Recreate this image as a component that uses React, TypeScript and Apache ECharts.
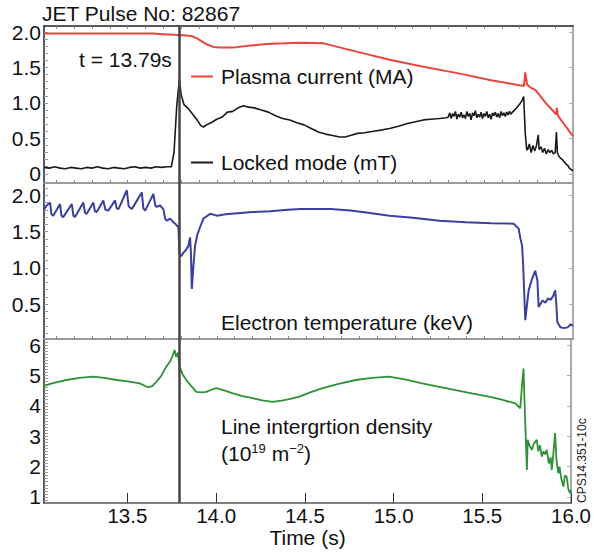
import React, { useEffect, useRef } from "react";
import * as echarts from "echarts";

const FONT = "'Liberation Sans', Arial, Helvetica, sans-serif";
const TIME_MIN = 13.03;
const TIME_MAX = 16.0;
const EVENT_TIME = 13.79;

const timeTickLabels = [13.5, 14.0, 14.5, 15.0, 15.5, 16.0];
const currentTickLabels = [0, 0.5, 1.0, 1.5, 2.0];
const tempTickLabels = [0.5, 1.0, 1.5, 2.0];
const densTickLabels = [1, 2, 3, 4, 5, 6];

// Plasma current (MA)
const ipTime = [13.03, 13.3, 13.64, 13.7, 13.76, 13.83, 13.86, 13.89, 13.92, 13.95, 13.98, 14.02, 14.09, 14.19, 14.28, 14.38, 14.47, 14.6, 14.79, 14.97, 15.16, 15.35, 15.54, 15.7, 15.725, 15.732, 15.742, 15.76, 15.79, 15.85, 15.905, 15.91, 15.915, 16.0];
const ipValue = [1.98, 1.98, 1.98, 1.97, 1.96, 1.95, 1.94, 1.91, 1.86, 1.82, 1.79, 1.78, 1.78, 1.81, 1.83, 1.84, 1.85, 1.84, 1.72, 1.61, 1.51, 1.42, 1.32, 1.25, 1.24, 1.43, 1.26, 1.22, 1.18, 0.99, 0.84, 0.93, 0.82, 0.53];

// Locked mode (mT)
const lmTime = [13.03, 13.06, 13.09, 13.12, 13.15, 13.18, 13.21, 13.24, 13.27, 13.3, 13.33, 13.36, 13.39, 13.42, 13.45, 13.48, 13.51, 13.54, 13.57, 13.6, 13.63, 13.66, 13.69, 13.72, 13.745, 13.76, 13.775, 13.79, 13.8, 13.815, 13.84, 13.865, 13.89, 13.91, 13.925, 13.95, 13.975, 14.0, 14.03, 14.06, 14.09, 14.12, 14.15, 14.18, 14.21, 14.25, 14.29, 14.33, 14.37, 14.41, 14.45, 14.49, 14.53, 14.57, 14.61, 14.65, 14.69, 14.72, 14.75, 14.79, 14.83, 14.88, 14.93, 14.97, 15.02, 15.07, 15.11, 15.16, 15.2, 15.25, 15.29,
  15.3, 15.308, 15.316, 15.324, 15.332, 15.34, 15.348, 15.356, 15.364, 15.372, 15.38, 15.388, 15.396, 15.404, 15.412, 15.42, 15.428, 15.436, 15.444, 15.452, 15.46, 15.468, 15.476, 15.484, 15.492, 15.5, 15.508, 15.516, 15.524, 15.532, 15.54, 15.548, 15.556, 15.564, 15.572, 15.58, 15.588, 15.596, 15.604, 15.612, 15.62, 15.628, 15.636, 15.644, 15.652, 15.66,
  15.68, 15.7, 15.715, 15.723, 15.728, 15.732, 15.74, 15.745, 15.755, 15.765, 15.775, 15.785, 15.795, 15.805, 15.81, 15.82, 15.83, 15.84, 15.85, 15.86, 15.87, 15.88, 15.89, 15.9, 15.907, 15.912, 15.92, 15.93, 15.94, 15.95, 15.96, 15.97, 15.98, 15.99, 16.0];
const lmValue = [0.09, 0.08, 0.1, 0.08, 0.07, 0.09, 0.08, 0.07, 0.09, 0.08, 0.1, 0.08, 0.07, 0.09, 0.08, 0.07, 0.09, 0.1, 0.08, 0.09, 0.08, 0.1, 0.09, 0.1, 0.1, 0.3, 0.95, 1.33, 1.12, 0.98, 0.92, 0.84, 0.76, 0.68, 0.66, 0.7, 0.73, 0.77, 0.8, 0.87, 0.88, 0.93, 0.96, 0.94, 0.93, 0.9, 0.87, 0.82, 0.78, 0.76, 0.72, 0.69, 0.64, 0.59, 0.56, 0.54, 0.52, 0.52, 0.54, 0.57, 0.58, 0.6, 0.62, 0.64, 0.67, 0.71, 0.73, 0.76, 0.77, 0.78, 0.79,
  0.8, 0.86, 0.78, 0.85, 0.81, 0.88, 0.77, 0.84, 0.8, 0.87, 0.79, 0.83, 0.78, 0.88, 0.81, 0.85, 0.76, 0.86, 0.82, 0.89, 0.79, 0.84, 0.8, 0.87, 0.78, 0.85, 0.81, 0.88, 0.79, 0.84, 0.77, 0.86, 0.82, 0.87, 0.8, 0.85, 0.79, 0.88, 0.82, 0.86, 0.81, 0.87, 0.83, 0.88, 0.84, 0.87,
  0.92, 0.98, 1.04, 1.09, 0.8, 0.57, 0.34, 0.34, 0.42, 0.3, 0.4, 0.32, 0.4, 0.55, 0.34, 0.38, 0.3, 0.36, 0.28, 0.34, 0.3, 0.33, 0.28, 0.3, 0.59, 0.3, 0.25, 0.22, 0.2, 0.17, 0.14, 0.12, 0.08, 0.06, 0.04];

// Electron temperature (keV)
const teTime = [13.03, 13.045, 13.064, 13.072, 13.082, 13.12, 13.128, 13.138, 13.186, 13.195, 13.204, 13.251, 13.26, 13.27, 13.307, 13.316, 13.326, 13.363, 13.375, 13.391, 13.429, 13.438, 13.448, 13.495, 13.505, 13.523, 13.579, 13.588, 13.598, 13.644, 13.655, 13.663, 13.682, 13.7, 13.71, 13.719, 13.738, 13.756, 13.77, 13.785, 13.79, 13.8, 13.813, 13.825, 13.84, 13.85, 13.855, 13.86, 13.868, 13.878, 13.89, 13.906, 13.925, 13.963, 14.0, 14.05, 14.1, 14.2, 14.3, 14.4, 14.47, 14.55, 14.64, 14.75, 14.85, 14.97, 15.1, 15.25, 15.4, 15.54, 15.667, 15.695, 15.705, 15.714, 15.72, 15.732, 15.742, 15.751, 15.77, 15.788, 15.8, 15.807, 15.816, 15.83, 15.845, 15.86, 15.875, 15.89, 15.9, 15.905, 15.912, 15.93, 15.95, 15.97, 15.985, 16.0];
const teValue = [1.8, 1.86, 1.9, 1.74, 1.72, 1.88, 1.72, 1.7, 1.88, 1.72, 1.7, 1.9, 1.76, 1.745, 1.9, 1.78, 1.77, 1.93, 1.8, 1.79, 1.93, 1.82, 1.81, 2.07, 1.85, 1.81, 2.04, 1.82, 1.79, 2.02, 1.86, 1.84, 1.86, 1.81, 1.68, 1.65, 1.68, 1.63, 1.6, 1.56, 1.2, 1.16, 1.21, 1.24, 1.3, 1.42, 1.2, 0.71, 1.0, 1.3, 1.45, 1.56, 1.68, 1.745, 1.72, 1.74, 1.75, 1.77, 1.78, 1.8, 1.81, 1.81, 1.81, 1.79, 1.76, 1.72, 1.69, 1.65, 1.63, 1.615, 1.61, 1.54, 1.4, 1.31, 1.05, 0.28, 0.5, 0.69, 0.85, 0.96, 0.83, 0.46, 0.5, 0.55, 0.52, 0.58, 0.56, 0.62, 0.69, 0.55, 0.25, 0.18, 0.17, 0.18, 0.22, 0.2];

// Line integrated density (1e19 m^-2)
const neTime = [13.03, 13.08, 13.157, 13.23, 13.307, 13.37, 13.44, 13.51, 13.57, 13.616, 13.64, 13.663, 13.69, 13.719, 13.74, 13.756, 13.766, 13.775, 13.785, 13.794, 13.81, 13.832, 13.86, 13.888, 13.92, 13.944, 13.97, 14.0, 14.05, 14.094, 14.15, 14.206, 14.26, 14.318, 14.37, 14.412, 14.47, 14.53, 14.6, 14.69, 14.787, 14.88, 14.974, 15.07, 15.161, 15.25, 15.349, 15.44, 15.536, 15.61, 15.686, 15.714, 15.723, 15.732, 15.74, 15.751, 15.756, 15.765, 15.779, 15.79, 15.807, 15.815, 15.825, 15.835, 15.845, 15.855, 15.863, 15.875, 15.885, 15.891, 15.9, 15.91, 15.918, 15.928, 15.935, 15.945, 15.957, 15.965, 15.975, 15.985, 15.994, 16.0];
const neValue = [4.66, 4.75, 4.85, 4.92, 4.96, 4.92, 4.85, 4.8, 4.74, 4.61, 4.65, 4.79, 4.98, 5.29, 5.45, 5.67, 5.84, 5.61, 5.75, 5.29, 5.05, 4.85, 4.65, 4.46, 4.44, 4.46, 4.52, 4.58, 4.5, 4.41, 4.32, 4.25, 4.18, 4.13, 4.17, 4.22, 4.3, 4.44, 4.58, 4.72, 4.85, 4.92, 4.96, 4.86, 4.74, 4.63, 4.52, 4.41, 4.3, 4.2, 4.08, 3.92, 4.63, 5.23, 3.75, 1.89, 2.88, 2.7, 2.55, 2.75, 2.88, 2.5, 2.7, 2.33, 2.5, 2.4, 2.55, 2.1, 2.3, 1.89, 2.4, 3.1, 2.2, 1.78, 2.0, 1.6, 1.34, 1.7, 1.67, 1.25, 1.12, 1.23];

const zip = (t: number[], v: number[]) => t.map((x, i) => [x, v[i]]);

function steps(from: number, to: number, step: number): number[] {
  const out: number[] = [];
  const n = Math.round((to - from) / step);
  for (let i = 0; i <= n; i++) out.push(Math.round((from + i * step) * 1000) / 1000);
  return out;
}

const GRID_LEFT = 44;
const GRID_RIGHT = 21;

export default function App() {
  const ref = useRef<HTMLDivElement>(null);

  useEffect(() => {
    if (!ref.current) return;
    const chart = echarts.init(ref.current, undefined, { renderer: "svg" });

    const minorTime = steps(13.1, 15.9, 0.1);
    const fmt1 = (v: number) => (v === 0 ? "0" : v.toFixed(1));

    const sepAxis = (gridIndex: number) => ({
      type: "value",
      gridIndex,
      position: "bottom",
      min: TIME_MIN,
      max: TIME_MAX,
      axisLine: { show: true, onZero: false, lineStyle: { color: "#9a9a9a", width: 2 } },
      axisTick: { show: true, inside: true, length: 3, customValues: minorTime, lineStyle: { color: "#888" } },
      axisLabel: { show: false },
      splitLine: { show: false },
    });

    const leftAxis = (gridIndex: number, min: number, max: number, labels: number[], minor: number[], formatter: (v: number) => string) => ({
      type: "value",
      gridIndex,
      position: "left",
      min,
      max,
      axisLine: { show: true, onZero: false, lineStyle: { color: "#222", width: 1.5 } },
      axisTick: { show: true, inside: true, length: 4, customValues: minor, lineStyle: { color: "#999" } },
      axisLabel: { show: true, customValues: labels, formatter, margin: 3, fontSize: 21, color: "#111", fontFamily: FONT },
      splitLine: { show: false },
    });

    const rightAxis = (gridIndex: number, min: number, max: number, ticks: number[]) => ({
      type: "value",
      gridIndex,
      position: "right",
      min,
      max,
      axisLine: { show: true, onZero: false, lineStyle: { color: "#aaa", width: 2 } },
      axisTick: { show: true, inside: true, length: 4, customValues: ticks, lineStyle: { color: "#aaa" } },
      axisLabel: { show: false },
      splitLine: { show: false },
    });

    const eventLine = {
      silent: true,
      symbol: "none",
      label: { show: false },
      lineStyle: { color: "#4b4245", width: 2.5, type: "solid" },
      data: [{ xAxis: EVENT_TIME }],
    };

    const annotation = (x: number, y: number, text: string) => ({
      type: "text",
      x,
      y,
      z: 10,
      style: { text, align: "left", verticalAlign: "middle", fontSize: 21, fontFamily: FONT, fill: "#111" },
    });

    chart.setOption({
      animation: false,
      textStyle: { fontFamily: FONT },
      title: {
        text: "JET Pulse No: 82867",
        left: 42,
        top: 3,
        padding: 0,
        textStyle: { fontSize: 21, fontWeight: "normal", color: "#111", fontFamily: FONT },
      },
      legend: [
        {
          data: ["Plasma current (MA)"],
          left: 191,
          top: 66,
          padding: 0,
          icon: "rect",
          itemWidth: 22,
          itemHeight: 2,
          selectedMode: false,
          textStyle: { fontSize: 21, color: "#111", fontFamily: FONT, padding: [0, 0, 0, 3] },
        },
        {
          data: ["Locked mode (mT)"],
          left: 191,
          top: 152,
          padding: 0,
          icon: "rect",
          itemWidth: 22,
          itemHeight: 2,
          selectedMode: false,
          textStyle: { fontSize: 21, color: "#111", fontFamily: FONT, padding: [0, 0, 0, 3] },
        },
      ],
      grid: [
        { left: GRID_LEFT, right: GRID_RIGHT, top: 26, height: 157 },
        { left: GRID_LEFT, right: GRID_RIGHT, top: 183, height: 156 },
        { left: GRID_LEFT, right: GRID_RIGHT, top: 339, height: 164 },
      ],
      xAxis: [
        sepAxis(0),
        {
          type: "value",
          gridIndex: 0,
          position: "top",
          min: TIME_MIN,
          max: TIME_MAX,
          axisLine: { show: true, onZero: false, lineStyle: { color: "#222", width: 1.5 } },
          axisTick: { show: true, inside: true, length: 3, customValues: minorTime, lineStyle: { color: "#888" } },
          axisLabel: { show: false },
          splitLine: { show: false },
        },
        sepAxis(1),
        {
          type: "value",
          gridIndex: 2,
          position: "bottom",
          min: TIME_MIN,
          max: TIME_MAX,
          name: "Time (s)",
          nameLocation: "middle",
          nameGap: 24,
          nameTextStyle: { fontSize: 21, color: "#111", fontFamily: FONT },
          axisLine: { show: true, onZero: false, lineStyle: { color: "#555", width: 1.5 } },
          axisTick: { show: true, inside: true, length: 10, customValues: timeTickLabels, lineStyle: { color: "#333", width: 1 } },
          axisLabel: {
            show: true,
            customValues: timeTickLabels,
            formatter: (v: number) => v.toFixed(1),
            margin: 2,
            fontSize: 20.5,
            color: "#111",
            fontFamily: FONT,
          },
          splitLine: { show: false },
        },
      ],
      yAxis: [
        leftAxis(0, -0.13, 2.085, currentTickLabels, steps(0, 2.0, 0.1), fmt1),
        rightAxis(0, -0.13, 2.085, [0, 0.5, 1.0, 1.5, 2.0]),
        leftAxis(1, 0.02, 2.17, tempTickLabels, steps(0.1, 2.1, 0.1), fmt1),
        rightAxis(1, 0.02, 2.17, [0.5, 1.0, 1.5, 2.0]),
        leftAxis(2, 0.8, 6.2, densTickLabels, steps(0.9, 6.1, 0.1), (v: number) => String(v)),
        rightAxis(2, 0.8, 6.2, [1, 2, 3, 4, 5, 6]),
      ],
      series: [
        {
          name: "Plasma current (MA)",
          type: "line",
          xAxisIndex: 0,
          yAxisIndex: 0,
          data: zip(ipTime, ipValue),
          showSymbol: false,
          symbol: "none",
          color: "#e8463c",
          lineStyle: { color: "#e8463c", width: 2 },
          z: 3,
        },
        {
          name: "Locked mode (mT)",
          type: "line",
          xAxisIndex: 0,
          yAxisIndex: 0,
          data: zip(lmTime, lmValue),
          showSymbol: false,
          symbol: "none",
          color: "#1a1a1a",
          lineStyle: { color: "#1a1a1a", width: 1.6 },
          markLine: eventLine,
          z: 3,
        },
        {
          name: "Electron temperature (keV)",
          type: "line",
          xAxisIndex: 2,
          yAxisIndex: 2,
          data: zip(teTime, teValue),
          showSymbol: false,
          symbol: "none",
          color: "#3b40a0",
          lineStyle: { color: "#3b40a0", width: 2 },
          markLine: eventLine,
          z: 3,
        },
        {
          name: "Line intergrtion density",
          type: "line",
          xAxisIndex: 3,
          yAxisIndex: 4,
          data: zip(neTime, neValue),
          showSymbol: false,
          symbol: "none",
          color: "#2f9236",
          lineStyle: { color: "#2f9236", width: 1.8 },
          markLine: eventLine,
          z: 3,
        },
      ],
      graphic: [
        {
          type: "text",
          x: 77,
          y: 59,
          z: 10,
          style: {
            text: "t = 13.79s",
            align: "left",
            verticalAlign: "middle",
            fontSize: 21,
            fontFamily: FONT,
            fill: "#111",
            backgroundColor: "#fff",
            padding: [2, 2, 2, 2],
          },
        },
        annotation(221, 322, "Electron temperature (keV)"),
        annotation(221, 426, "Line intergrtion density"),
        {
          type: "text",
          x: 221,
          y: 453,
          z: 10,
          style: {
            text: "(10{sup|19} m{sup|−2})",
            align: "left",
            verticalAlign: "middle",
            fontSize: 21,
            fontFamily: FONT,
            fill: "#111",
            rich: {
              sup: { fontSize: 13, fontFamily: FONT, fill: "#111", padding: [0, 0, 10, 0] },
            },
          },
        },
        {
          type: "text",
          x: 582,
          y: 503,
          rotation: Math.PI / 2,
          z: 10,
          style: {
            text: "CPS14.351-10c",
            align: "left",
            verticalAlign: "middle",
            fontSize: 12,
            fontFamily: FONT,
            fill: "#222",
          },
        },
      ],
    });

    return () => chart.dispose();
  }, []);

  return <div ref={ref} style={{ position: "fixed", left: 0, top: 0, width: 594, height: 556, background: "#fff" }} />;
}
